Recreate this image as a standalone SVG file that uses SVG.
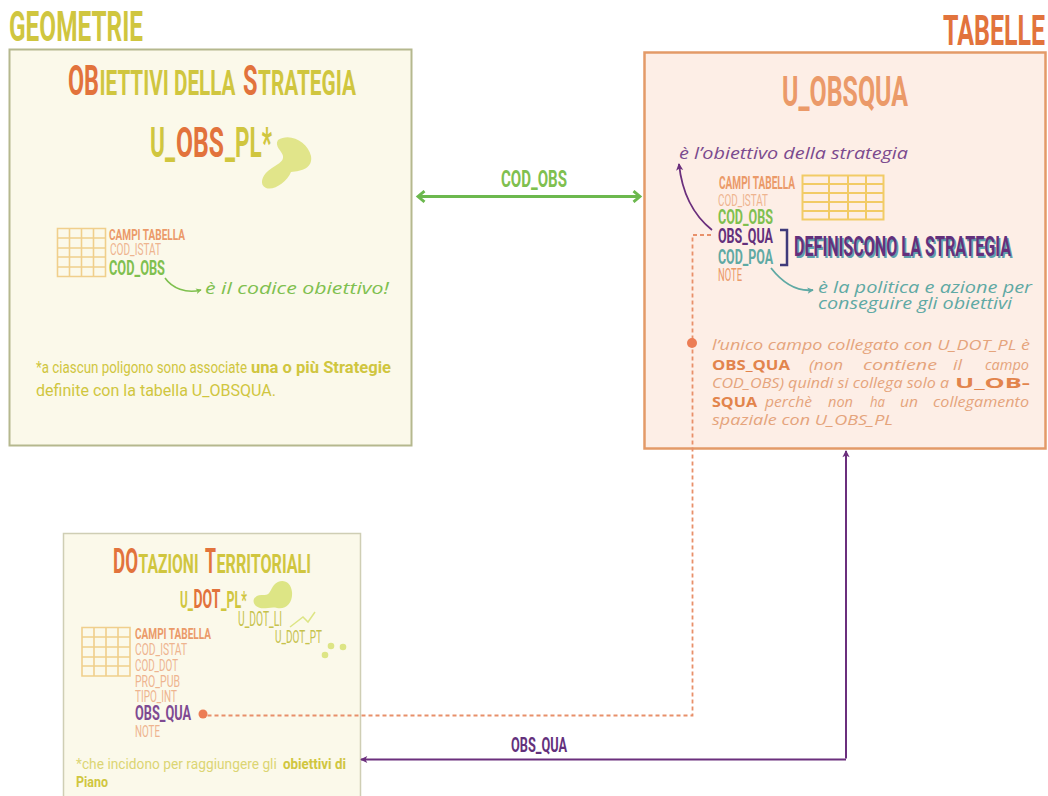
<svg xmlns="http://www.w3.org/2000/svg" width="1048" height="796" viewBox="0 0 1048 796">
<style>
text{font-family:"Liberation Sans",Arial,sans-serif}
.c{font-family:"Roboto","Liberation Sans",sans-serif;font-weight:700}
.r{font-family:"Roboto","Liberation Sans",sans-serif;font-weight:400}
.m{font-family:"Open Sans","DejaVu Sans",sans-serif;font-style:italic}
.mb{font-family:"Open Sans","DejaVu Sans",sans-serif;font-weight:700}
.y{fill:#d0c63f}.o{fill:#e2733c}.s{fill:#eb9a69}.l{fill:#eeb48f}.g{fill:#7fc04f}.p{fill:#63307c}.t{fill:#5fa9a4}
.grid{fill:none;stroke-width:1.6}
.lines{fill:none}
.para{font-size:15px;fill:#e5a47c}
.pb{fill:#e2844c}
</style>
<defs>
<marker id="ag" viewBox="0 0 10 10" refX="8" refY="5" markerWidth="13" markerHeight="13" orient="auto-start-reverse" markerUnits="userSpaceOnUse"><path d="M3 .8L8 5L3 9.200" fill="none" stroke="#6cb84e" stroke-width="2.200"/></marker>
<marker id="ap" viewBox="0 0 10 10" refX="8" refY="5" markerWidth="9" markerHeight="9" orient="auto" markerUnits="userSpaceOnUse"><path d="M1 1L9 5L1 9L3 5z" fill="#6b2f7d"/></marker>
<marker id="at" viewBox="0 0 10 10" refX="8" refY="5" markerWidth="8" markerHeight="8" orient="auto" markerUnits="userSpaceOnUse"><path d="M1 1L9 5L1 9L3 5z" fill="#5fa9a4"/></marker>
<marker id="agl" viewBox="0 0 10 10" refX="8" refY="5" markerWidth="7" markerHeight="7" orient="auto" markerUnits="userSpaceOnUse"><path d="M1 1L9 5L1 9L3 5z" fill="#7fc04f"/></marker>
</defs>
<rect width="1048" height="796" fill="#fff"/>
<text id="label-geometrie" class="c y" transform="translate(9 41) scale(.6 1)" font-size="43" textLength="223.300" lengthAdjust="spacingAndGlyphs">GEOMETRIE</text>
<text id="label-tabelle" class="c o" transform="translate(943 45) scale(.6 1)" font-size="43" textLength="170" lengthAdjust="spacingAndGlyphs">TABELLE</text>

<g id="node-obiettivi">
<rect x="9.500" y="49.500" width="402" height="396" fill="#fbf9ea" stroke="#b5b88e" stroke-width="2"/>
<text class="c o" transform="translate(68 95) scale(.6 1)" font-size="42" textLength="51.700" lengthAdjust="spacingAndGlyphs">OB</text>
<text class="c y" transform="translate(99.500 95) scale(.6 1)" font-size="35" textLength="226.700" lengthAdjust="spacingAndGlyphs">IETTIVI DELLA</text>
<text class="c o" transform="translate(243 95) scale(.6 1)" font-size="42" textLength="24.200" lengthAdjust="spacingAndGlyphs">S</text>
<text class="c y" transform="translate(258 95) scale(.6 1)" font-size="35" textLength="163.300" lengthAdjust="spacingAndGlyphs">TRATEGIA</text>
<text class="c y" transform="translate(150 157) scale(.6 1)" font-size="42" textLength="41.700" lengthAdjust="spacingAndGlyphs">U_</text>
<text class="c o" transform="translate(176 157) scale(.6 1)" font-size="42" textLength="80" lengthAdjust="spacingAndGlyphs">OBS</text>
<text class="c y" transform="translate(225 157) scale(.6 1)" font-size="42" textLength="78.300" lengthAdjust="spacingAndGlyphs">_PL*</text>
<path d="M278 140C290 132 308 142 311 156C313 168 302 171 291 172C287 182 274 191 266 188C259 185 262 176 268 171C277 164 284 162 283 156C282 151 274 146 278 140Z" fill="#e1e58a"/>
<g class="grid" stroke="#f0cf8c"><path d="M57.500 228.500H105.500V276.500H57.500ZM57.500 238H105.500M57.500 248H105.500M57.500 257H105.500M57.500 267H105.500M69.500 228V276M81.500 228V276M93.500 228V276"/></g>
<text class="c s" transform="translate(109 240) scale(.6 1)" font-size="15.500" textLength="126.700" lengthAdjust="spacingAndGlyphs">CAMPI TABELLA</text>
<text class="r l" transform="translate(110 255) scale(.6 1)" font-size="17" textLength="85" lengthAdjust="spacingAndGlyphs">COD_ISTAT</text>
<text class="c g" transform="translate(109 275) scale(.6 1)" font-size="21" textLength="93.300" lengthAdjust="spacingAndGlyphs">COD_OBS</text>
<text class="m g" x="205" y="294" font-size="15.500" textLength="184" lengthAdjust="spacingAndGlyphs">è il codice obiettivo!</text>
<text class="r y" transform="translate(36 373) scale(.75 1)" font-size="17" textLength="281.300" lengthAdjust="spacingAndGlyphs">*a ciascun poligono sono associate</text>
<text class="c y" transform="translate(251 373) scale(.75 1)" font-size="17" textLength="186.700" lengthAdjust="spacingAndGlyphs">una o più Strategie</text>
<text class="r y" transform="translate(36 396) scale(.75 1)" font-size="17" textLength="320" lengthAdjust="spacingAndGlyphs">definite con la tabella U_OBSQUA.</text>
</g>

<g id="node-u-obsqua">
<rect x="644.500" y="52.500" width="401" height="396" fill="#fdeee6" stroke="#e39a68" stroke-width="2.500"/>
<text class="c s" transform="translate(782 106) scale(.6 1)" font-size="43" textLength="210" lengthAdjust="spacingAndGlyphs">U_OBSQUA</text>
<text class="m" x="679" y="159" font-size="17" fill="#7b4a8e" textLength="229" lengthAdjust="spacingAndGlyphs">è l’obiettivo della strategia</text>
<g class="grid" stroke="#f2cb66"><path d="M802.500 175.500H883.500V219.500H802.500ZM802.500 184H883.500M802.500 193H883.500M802.500 202H883.500M802.500 211H883.500M829 175V219M848 175V219M866 175V219" stroke-width="2"/></g>
<text class="c s" transform="translate(719 189) scale(.6 1)" font-size="17.500" textLength="126.700" lengthAdjust="spacingAndGlyphs">CAMPI TABELLA</text>
<text class="r l" transform="translate(718 206) scale(.6 1)" font-size="17" textLength="83.300" lengthAdjust="spacingAndGlyphs">COD_ISTAT</text>
<text class="c g" transform="translate(718 224) scale(.6 1)" font-size="21" textLength="91.700" lengthAdjust="spacingAndGlyphs">COD_OBS</text>
<text class="c p" transform="translate(718 243) scale(.6 1)" font-size="21" textLength="91.700" lengthAdjust="spacingAndGlyphs">OBS_QUA</text>
<text class="c t" transform="translate(718 264) scale(.6 1)" font-size="21" textLength="91.700" lengthAdjust="spacingAndGlyphs">COD_POA</text>
<text class="r s" transform="translate(718 281) scale(.6 1)" font-size="17.500" textLength="40" lengthAdjust="spacingAndGlyphs">NOTE</text>
<path d="M780 230H787V265H780" fill="none" stroke="#3f3a7a" stroke-width="2.500"/>
<text class="c" transform="translate(795.500 257.500) scale(.55 1)" font-size="28" fill="#5fa0ad" textLength="394.500" lengthAdjust="spacingAndGlyphs">DEFINISCONO LA STRATEGIA</text>
<text class="c p" transform="translate(794 256) scale(.55 1)" font-size="28" textLength="394.500" lengthAdjust="spacingAndGlyphs">DEFINISCONO LA STRATEGIA</text>
<text class="m t" x="818" y="293" font-size="17" textLength="214" lengthAdjust="spacingAndGlyphs">è la politica e azione per</text>
<text class="m t" x="818" y="309" font-size="17" textLength="194" lengthAdjust="spacingAndGlyphs">conseguire gli obiettivi</text>
<g class="para">
<text class="m" x="712" y="350" textLength="318" lengthAdjust="spacingAndGlyphs">l’unico campo collegato con U_DOT_PL è</text>
<text class="mb pb" x="712" y="370" textLength="78" lengthAdjust="spacingAndGlyphs">OBS_QUA</text>
<text class="m" x="809" y="370" textLength="34" lengthAdjust="spacingAndGlyphs">(non</text>
<text class="m" x="863" y="370" textLength="74" lengthAdjust="spacingAndGlyphs">contiene</text>
<text class="m" x="953" y="370" textLength="9" lengthAdjust="spacingAndGlyphs">il</text>
<text class="m" x="985" y="370" textLength="44" lengthAdjust="spacingAndGlyphs">campo</text>
<text class="m" x="712" y="388" textLength="237" lengthAdjust="spacingAndGlyphs">COD_OBS) quindi si collega solo a</text>
<text class="mb pb" x="955" y="388" textLength="75" lengthAdjust="spacingAndGlyphs">U_OB-</text>
<text class="mb pb" x="712" y="407" textLength="45" lengthAdjust="spacingAndGlyphs">SQUA</text>
<text class="m" x="765" y="407" textLength="47" lengthAdjust="spacingAndGlyphs">perchè</text>
<text class="m" x="828" y="407" textLength="25" lengthAdjust="spacingAndGlyphs">non</text>
<text class="m" x="870" y="407" textLength="15" lengthAdjust="spacingAndGlyphs">ha</text>
<text class="m" x="900" y="407" textLength="18" lengthAdjust="spacingAndGlyphs">un</text>
<text class="m" x="933" y="407" textLength="96" lengthAdjust="spacingAndGlyphs">collegamento</text>
<text class="m" x="712" y="425" textLength="181" lengthAdjust="spacingAndGlyphs">spaziale con U_OBS_PL</text>
</g>
</g>

<g id="node-dotazioni">
<path d="M63.500 796V533.500H360.500V796" fill="#fbf9ea" stroke="#cfceb4" stroke-width="1.500"/>
<text class="c o" transform="translate(113 573) scale(.6 1)" font-size="35" textLength="41.700" lengthAdjust="spacingAndGlyphs">DO</text>
<text class="c y" transform="translate(138.500 573) scale(.6 1)" font-size="26" textLength="100" lengthAdjust="spacingAndGlyphs">TAZIONI</text>
<text class="c o" transform="translate(205 573) scale(.6 1)" font-size="35" textLength="18.300" lengthAdjust="spacingAndGlyphs">T</text>
<text class="c y" transform="translate(216.500 573) scale(.6 1)" font-size="26" textLength="157.500" lengthAdjust="spacingAndGlyphs">ERRITORIALI</text>
<text class="c y" transform="translate(180 608) scale(.6 1)" font-size="23" textLength="21.700" lengthAdjust="spacingAndGlyphs">U_</text>
<text class="c o" transform="translate(193.500 608) scale(.6 1)" font-size="25" textLength="45" lengthAdjust="spacingAndGlyphs">DOT</text>
<text class="c y" transform="translate(221 608) scale(.6 1)" font-size="23" textLength="43.300" lengthAdjust="spacingAndGlyphs">_PL*</text>
<path d="M274 585C280 578 291 580 292 592C293 603 286 610 277 608C270 606 262 611 256 606C250 600 256 594 263 595C270 596 270 590 274 585Z" fill="#dde585"/>
<text class="r" transform="translate(238 626) scale(.6 1)" font-size="20" font-weight="500" fill="#c6c24c" textLength="73.300" lengthAdjust="spacingAndGlyphs">U_DOT_LI</text>
<path d="M290 627L303 617L308 622L315 612" fill="none" stroke="#dde585" stroke-width="1.500"/>
<text class="r" transform="translate(275 643) scale(.6 1)" font-size="19" font-weight="500" fill="#c6c24c" textLength="78.300" lengthAdjust="spacingAndGlyphs">U_DOT_PT</text>
<circle cx="331" cy="646" r="3.300" fill="#dde585"/><circle cx="343" cy="647" r="3.300" fill="#dde585"/><circle cx="325" cy="655" r="3.300" fill="#dde585"/>
<g class="grid" stroke="#f0cf8c"><path d="M82 627.500H130V676H82ZM82 637H130M82 647H130M82 657H130M82 666H130M94 627V676M106 627V676M118 627V676"/></g>
<text class="c s" transform="translate(135 639) scale(.6 1)" font-size="15.500" textLength="126.700" lengthAdjust="spacingAndGlyphs">CAMPI TABELLA</text>
<text class="r l" transform="translate(135 655) scale(.6 1)" font-size="16.500" textLength="86.700" lengthAdjust="spacingAndGlyphs">COD_ISTAT</text>
<text class="r l" transform="translate(135 671) scale(.6 1)" font-size="16.500" textLength="71.700" lengthAdjust="spacingAndGlyphs">COD_DOT</text>
<text class="r l" transform="translate(135 687) scale(.6 1)" font-size="16.500" textLength="75" lengthAdjust="spacingAndGlyphs">PRO_PUB</text>
<text class="r l" transform="translate(135 702) scale(.6 1)" font-size="16.500" textLength="70" lengthAdjust="spacingAndGlyphs">TIPO_INT</text>
<text class="c" transform="translate(135 720) scale(.6 1)" font-size="20" fill="#7e4a92" textLength="93.300" lengthAdjust="spacingAndGlyphs">OBS_QUA</text>
<text class="r l" transform="translate(135 737) scale(.6 1)" font-size="16.500" textLength="41.700" lengthAdjust="spacingAndGlyphs">NOTE</text>
<text class="r" transform="translate(76 769) scale(.8 1)" font-size="15.500" fill="#dcd573" textLength="251" lengthAdjust="spacingAndGlyphs">*che incidono per raggiungere gli</text>
<text class="c y" transform="translate(283 769) scale(.8 1)" font-size="15.500" textLength="78.800" lengthAdjust="spacingAndGlyphs">obiettivi di</text>
<text class="c y" transform="translate(76 787) scale(.8 1)" font-size="15.500" textLength="40" lengthAdjust="spacingAndGlyphs">Piano</text>
</g>

<g id="connectors">
<path class="lines" d="M418 196.500H640" stroke="#6cb84e" stroke-width="3" marker-start="url(#ag)" marker-end="url(#ag)"/>
<text class="c g" transform="translate(501 187) scale(.6 1)" font-size="24" textLength="110" lengthAdjust="spacingAndGlyphs">COD_OBS</text>
<path class="lines" d="M846 758.500V451" stroke="#6b2f7d" stroke-width="2" marker-end="url(#ap)"/>
<path class="lines" d="M846 759.500H361" stroke="#6b2f7d" stroke-width="2" marker-end="url(#ap)"/>
<text class="c p" transform="translate(511 752) scale(.6 1)" font-size="20" textLength="93.300" lengthAdjust="spacingAndGlyphs">OBS_QUA</text>
<path class="lines" d="M711 235H692.500V715.500H207" stroke="#e8906a" stroke-width="1.800" stroke-dasharray="4 3"/>
<circle cx="692" cy="343" r="5" fill="#ec7d55"/>
<circle cx="203" cy="714" r="4.500" fill="#ec7d55"/>
<path class="lines" d="M712 230C692 214 682 193 679 164" stroke="#6b2f7d" stroke-width="1.800" marker-end="url(#ap)"/>
<path class="lines" d="M771 268C782 282 796 292 813 290" stroke="#5fa9a4" stroke-width="1.800" marker-end="url(#at)"/>
<path class="lines" d="M165 278C172 288 186 294 201 290" stroke="#7fc04f" stroke-width="1.600" marker-end="url(#agl)"/>
</g>
</svg>
